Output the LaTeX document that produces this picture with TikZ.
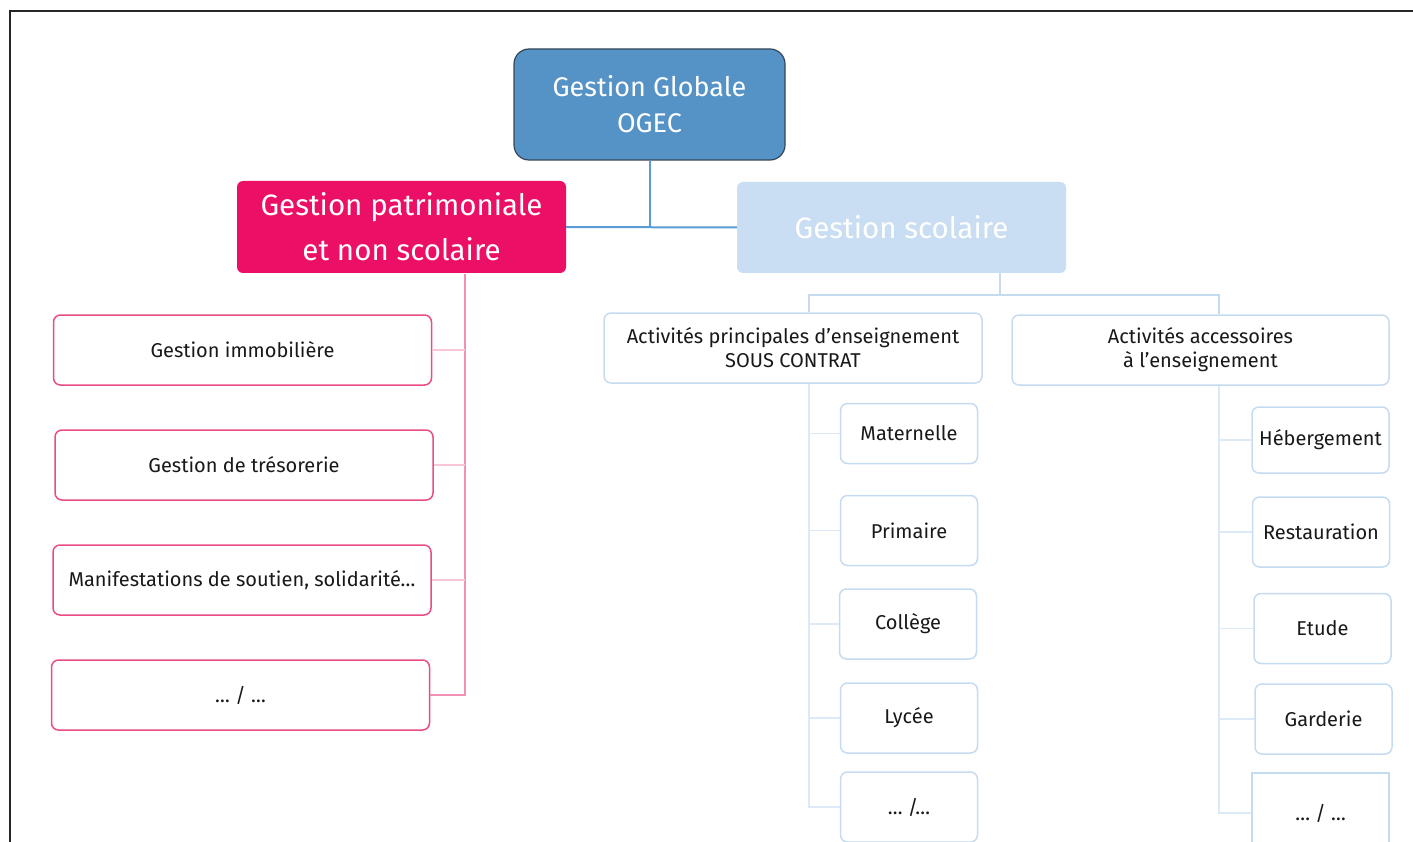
\documentclass[tikz,border=0pt]{standalone}
\usepackage{fontspec}
\setmainfont{Fira Sans}
\usetikzlibrary{positioning}

\definecolor{ogecblue}{HTML}{5592C6}
\definecolor{ogecedge}{HTML}{34465A}
\definecolor{patrpink}{HTML}{EC0F66}
\definecolor{pinkedge}{HTML}{EA4C86}
\definecolor{pinkline}{HTML}{F9C6D9}
\definecolor{scolblue}{HTML}{C9DEF2}
\definecolor{paleedge}{HTML}{C5DBF0}
\definecolor{paleline}{HTML}{DDE9F6}
\definecolor{linkblue}{HTML}{5B9BD5}

\tikzset{
	headbox/.style={rounded corners=6pt, text=white, align=center, font=\fontsize{29.5}{45}\selectfont},
	pinkbox/.style={draw=pinkedge, line width=1.5pt, rounded corners=7pt, fill=white,
		minimum width=378pt, minimum height=70pt, text=black!90, font=\fontsize{20}{24}\selectfont},
	palebox/.style={draw=paleedge, line width=1.5pt, rounded corners=7pt, fill=white,
		minimum width=137pt, minimum height=70pt, text=black!90, align=center, font=\fontsize{20}{24}\selectfont},
	pinkbranch/.style={pinkline, line width=1.2pt},
	palebranch/.style={paleline, line width=1.2pt}
}

\begin{document}
\begin{tikzpicture}[x=1pt,y=-1pt]
	%Page size and the frame of the screenshot
	\useasboundingbox (0,0) rectangle (1413,842);
	\draw[line width=2.5pt,black!85] (10,842) -- (10,11) -- (1413,11);

	%Top of the tree
	\node[draw=ogecedge, line width=1.2pt, fill=ogecblue, rounded corners=15pt, minimum width=271pt, minimum height=111pt,
		text=white, align=center, font=\fontsize{27}{36}\selectfont] (ogec) at (649.5,104.5) {Gestion Globale\\OGEC};
	\node[headbox, fill=patrpink, minimum width=329pt, minimum height=92pt] (patr) at (401.5,227) {Gestion patrimoniale\\et non scolaire};
	\node[headbox, fill=scolblue, minimum width=329pt, minimum height=91pt] (scol) at (901.5,227.5) {Gestion scolaire};

	\draw[linkblue, line width=2pt] (patr.east) -- (scol.west);
	\draw[linkblue, line width=2pt] (ogec.south) -- (ogec.south |- patr.east);

	%Left branch
	\node[pinkbox] (immo) at (242.5,350) {Gestion immobilière};
	\node[pinkbox] (treso) at (244,465) {Gestion de trésorerie};
	\node[pinkbox] (manif) at (242,580) {Manifestations de soutien, solidarité…};
	\node[pinkbox] (pautre) at (240.5,695) {… / …};

	\coordinate (pspine) at (465,274);
	\draw[pinkline!55!pinkedge, line width=1.2pt] (pspine) |- (pautre.east);
	\foreach \leaf in {immo,treso,manif}
		\draw[pinkbranch] (pspine |- \leaf.east) -- (\leaf.east);

	%Right branch
	\node[palebox, minimum width=378pt] (princ) at (793,348) {Activités principales d’enseignement\\SOUS CONTRAT};
	\node[palebox, minimum width=377pt] (acc) at (1200.5,350) {Activités accessoires\\à l’enseignement};

	\coordinate (sfork) at (1000,295);
	\coordinate (aspine) at (809,384);
	\coordinate (bspine) at (1219,386);
	\draw[paleedge, line width=1.5pt] (sfork |- scol.south) -- (sfork);
	\draw[paleedge, line width=1.5pt] (aspine |- princ.north) |- (sfork) -| (bspine |- acc.north);

	%Children of the principal activities
	\node[palebox, minimum height=60pt] (mater) at (909,433.5) {Maternelle};
	\node[palebox] (prim) at (909,530.5) {Primaire};
	\node[palebox] (coll) at (908,624) {Collège};
	\node[palebox] (lycee) at (909,718) {Lycée};
	\node[palebox] (aautre) at (909,807) {… /…};

	\draw[palebranch] (aspine) |- (aautre.west);
	\foreach \leaf in {mater,prim,coll,lycee}
		\draw[palebranch] (aspine |- \leaf.west) -- (\leaf.west);

	%Children of the accessory activities
	\node[palebox, minimum height=66pt] (heberg) at (1320.5,440) {Hébergement};
	\node[palebox] (resto) at (1321,532) {Restauration};
	\node[palebox] (etude) at (1322.5,628.5) {Etude};
	\node[palebox] (garde) at (1323.5,719) {Garderie};
	\node[palebox, rounded corners=0pt, minimum height=80pt] (bautre) at (1320.5,813) {… / …};

	\draw[palebranch] (bspine) |- (bautre.west);
	\foreach \leaf in {heberg,resto,etude,garde}
		\draw[palebranch] (bspine |- \leaf.west) -- (\leaf.west);
\end{tikzpicture}
\end{document}
